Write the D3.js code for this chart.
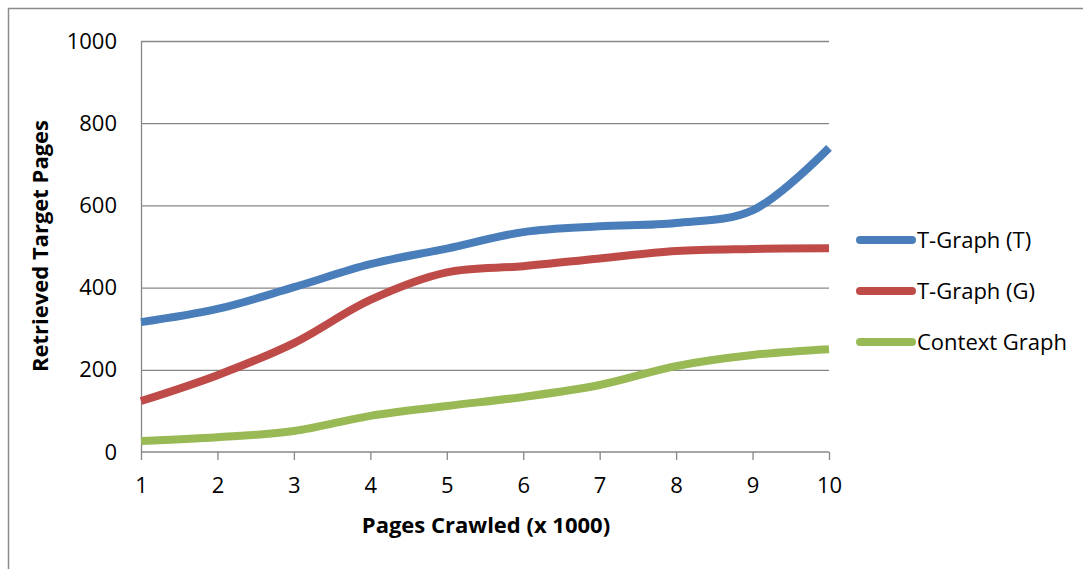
<!DOCTYPE html>
<html>
<head>
<meta charset="utf-8">
<script src="https://cdn.jsdelivr.net/npm/d3@7"></script>
<style>
  body { margin: 0; background: #fff; }
  svg text { font-family: "Open Sans", "Liberation Sans", sans-serif; fill: #000; }
  .grid line { stroke: #878787; stroke-width: 1.3; }
  .grid path { display: none; }
  .axis path, .axis line { stroke: #878787; stroke-width: 1.3; }
  .axis text { font-size: 22px; font-family: "Open Sans", "Liberation Sans", sans-serif; }
</style>
</head>
<body>
<svg id="chart" width="1083" height="569"></svg>
<script>
  var pages = [1, 2, 3, 4, 5, 6, 7, 8, 9, 10];
  var tgraphT = [316, 348, 401, 457, 495, 535, 549, 557, 588, 740];
  var tgraphG = [124, 187, 265, 370, 437, 452, 471, 489, 494, 496];
  var contextG = [27, 36, 51, 88, 112, 134, 163, 209, 236, 250];
  var seriesNames = ["T-Graph (T)", "T-Graph (G)", "Context Graph"];
  var yTicks = [0, 200, 400, 600, 800, 1000];

  var colors = ["#4a7ebb", "#be4b48", "#98b954"];
  var allSeries = [tgraphT, tgraphG, contextG];

  var margin = {top: 41, left: 141};
  var width = 829 - 141,
      height = 452 - 41;

  var svg = d3.select("#chart");

  // outer frame (only top and left visible)
  svg.append("path")
      .attr("d", "M8.5,569 V8.5 H1083")
      .attr("fill", "none")
      .attr("stroke", "#8c8c8c")
      .attr("stroke-width", 1.5);

  var canvas = svg.append("g")
      .attr("transform", "translate(" + margin.left + "," + margin.top + ")");

  var xScale = d3.scaleLinear().domain([1, 10]).range([0, width]);
  var yScale = d3.scaleLinear().domain([0, 1000]).range([height, 0]);

  // horizontal grid
  canvas.append("g")
      .attr("class", "grid")
      .call(d3.axisLeft(yScale).tickValues(yTicks.slice(1)).tickSize(-width).tickFormat(""));

  // y axis
  canvas.append("g")
      .attr("class", "axis")
      .call(d3.axisLeft(yScale).tickValues(yTicks).tickFormat(d3.format("d")).tickSize(0).tickPadding(24));

  // x axis
  var xAxis = canvas.append("g")
      .attr("class", "axis")
      .attr("transform", "translate(0," + height + ")")
      .call(d3.axisBottom(xScale).tickValues(pages).tickSize(8).tickPadding(17));
  xAxis.select(".domain").attr("d", "M0,0H" + width);

  // axis titles
  svg.append("text")
      .attr("transform", "translate(48,246) rotate(-90)")
      .attr("text-anchor", "middle")
      .style("font-size", "22px")
      .style("font-weight", "bold")
      .text("Retrieved Target Pages");

  svg.append("text")
      .attr("x", 486)
      .attr("y", 533)
      .attr("text-anchor", "middle")
      .style("font-size", "22px")
      .style("font-weight", "bold")
      .text("Pages Crawled (x 1000)");

  var line = d3.line()
      .x(function(d, i) { return xScale(pages[i]); })
      .y(function(d) { return yScale(d); })
      .curve(d3.curveCatmullRom.alpha(0.5));

  canvas.selectAll(".series")
      .data(allSeries)
      .enter()
      .append("path")
      .attr("class", "series")
      .attr("d", line)
      .attr("fill", "none")
      .attr("stroke", function(d, i) { return colors[i]; })
      .attr("stroke-width", 8)
      .attr("stroke-linecap", "butt")
      .attr("stroke-linejoin", "round");

  // legend
  var legend = svg.append("g")
      .selectAll("g")
      .data(seriesNames)
      .enter()
      .append("g")
      .attr("transform", function(d, i) { return "translate(860," + (240 + i * 51) + ")"; });

  legend.append("line")
      .attr("x1", 0).attr("x2", 52)
      .attr("stroke", function(d, i) { return colors[i]; })
      .attr("stroke-width", 8)
      .attr("stroke-linecap", "round");

  legend.append("text")
      .attr("x", 57)
      .attr("dy", "0.35em")
      .style("font-size", "22px")
      .text(function(d) { return d; });
</script>
</body>
</html>
